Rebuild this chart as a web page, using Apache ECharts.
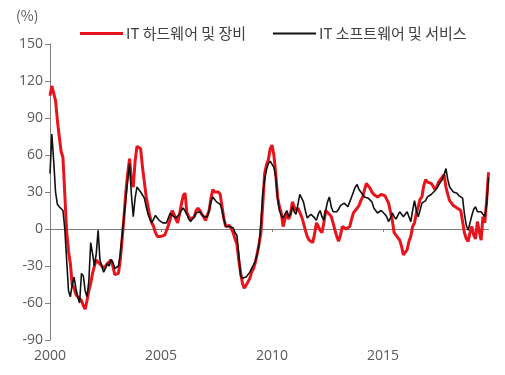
<!DOCTYPE html>
<html>
<head>
<meta charset="utf-8">
<script src="https://cdn.jsdelivr.net/npm/echarts@6/dist/echarts.min.js"></script>
<style>
html,body{margin:0;padding:0;background:#fff;}
#c{width:505px;height:375px;}
</style>
</head>
<body>
<div id="c"></div>
<script>
// monthly data, Jan 2000 - Oct 2019 (YoY %)
const startYear = 2000;
const seriesNames = ['IT 하드웨어 및 장비', 'IT 소프트웨어 및 서비스'];
const xTickYears = ['2000', '2005', '2010', '2015'];
const yTicks = [-90, -60, -30, 0, 30, 60, 90, 120, 150];

const hardware = [
108,116,115,104,88,75,63,58,28,-2,-18,-28,
-45,-48,-53,-55,-54,-58,-62,-65,-58,-50,-44,-36,
-30,-25,-27,-28,-30,-32,-31,-28,-27,-25,-30,-37,
-38,-36,-25,-8,10,30,45,57,40,34,55,67,
66,65,50,38,26,18,10,5,2,-3,-6,-7,
-6,-5,-5,-4,3,8,15,12,8,5,12,20,
27,29,13,10,8,7,10,15,17,15,12,10,
7,6,15,25,32,30,29,30,28,18,8,2,
2,3,2,-3,-8,-12,-25,-35,-44,-48,-47,-43,
-40,-35,-32,-27,-20,-12,-3,20,45,52,56,65,
68,60,45,26,18,13,2,8,13,8,12,22,
18,15,17,17,10,5,-1,-6,-9,-10,-11,-4,
5,2,-1,-3,5,15,14,12,10,5,-1,-6,
-10,-5,2,2,0,-1,2,8,13,15,17,19,
23,26,32,37,36,33,30,28,27,26,27,28,
29,27,24,21,14,7,-3,-5,-7,-9,-14,-21,
-20,-17,-10,-6,2,5,13,18,24,26,35,40,
38,37,37,35,32,34,38,40,42,44,34,28,
23,21,19,18,17,17,15,14,-3,-8,-10,-3,
2,-5,-8,6,-2,-9,10,5,23,46
];

const software = [
45,77,55,30,20,18,18,15,0,-25,-50,-55,
-45,-39,-48,-55,-60,-36,-38,-50,-55,-42,-11,-20,
-30,-20,-1,-25,-30,-35,-32,-28,-30,-25,-27,-32,
-33,-30,-20,-5,10,25,40,53,28,10,25,34,
33,30,29,25,18,12,8,5,8,11,9,7,
6,5,5,5,9,13,11,10,9,10,12,15,
17,16,12,8,6,8,10,13,13,14,12,10,
9,10,15,22,26,24,22,23,20,15,8,2,
1,2,3,1,-3,-5,-20,-38,-40,-40,-39,-37,
-35,-32,-29,-26,-20,-13,5,29,40,48,53,55,
56,50,42,25,15,11,9,12,15,10,12,18,
14,12,20,28,29,22,15,9,10,12,13,9,
7,12,15,10,7,15,22,26,18,14,15,14,
16,19,20,21,22,18,22,26,30,34,36,32,
30,28,26,25,25,26,22,17,15,13,14,15,
15,12,10,6,9,13,10,8,11,14,12,10,
10,14,10,6,15,23,15,10,15,21,21,23,
26,27,28,29,31,33,34,38,40,44,49,40,
34,32,30,30,29,27,26,25,12,3,-1,5,
11,16,18,14,15,14,12,10,20,42
];

const categories = [];
for (let i = 0; i < hardware.length; i++) {
  const y = startYear + Math.floor(i / 12);
  const m = (i % 12) + 1;
  categories.push(y + '-' + (m < 10 ? '0' + m : m));
}
const isLabelTick = (idx) => {
  const c = categories[idx];
  return c.endsWith('-01') && xTickYears.indexOf(c.slice(0, 4)) >= 0;
};

const chart = echarts.init(document.getElementById('c'), null, {renderer: 'canvas'});
const fontFam = '"Noto Sans CJK KR", "Open Sans", sans-serif';
const legendText = {fontFamily: fontFam, fontSize: 15, color: '#404040', padding: [0, 0, 0, -2]};
chart.setOption({
  animation: false,
  backgroundColor: '#fff',
  grid: {left: 50, top: 44, width: 438.5, height: 296},
  legend: [{
    data: [{name: seriesNames[0], icon: 'rect'}],
    top: 21,
    left: 75,
    itemWidth: 43,
    itemHeight: 3,
    textStyle: legendText
  }, {
    data: [{name: seriesNames[1], icon: 'rect'}],
    top: 21,
    left: 268,
    itemWidth: 43,
    itemHeight: 2,
    textStyle: legendText
  }],
  graphic: [{
    type: 'text', left: 16, top: 9,
    style: {text: '(%)', fontFamily: fontFam, fontSize: 14, fill: '#595959'}
  }],
  xAxis: [{
    type: 'category',
    data: categories,
    boundaryGap: false,
    axisLine: {show: false, onZero: false},
    axisTick: {show: false},
    splitLine: {show: false},
    axisLabel: {
      interval: (idx) => isLabelTick(idx),
      formatter: (v) => v.slice(0, 4),
      margin: 9,
      fontFamily: '"Open Sans", sans-serif',
      fontSize: 14,
      color: '#595959'
    }
  }, {
    type: 'category',
    data: categories,
    boundaryGap: false,
    position: 'bottom',
    axisLine: {show: true, onZero: true, lineStyle: {color: '#7f7f7f', width: 1}},
    axisTick: {show: true, inside: false, length: 3, interval: (idx) => isLabelTick(idx) && idx > 0, lineStyle: {color: '#7f7f7f'}},
    axisLabel: {show: false},
    splitLine: {show: false}
  }],
  yAxis: {
    type: 'value',
    min: yTicks[0],
    max: yTicks[yTicks.length - 1],
    interval: 30,
    axisLine: {show: true, lineStyle: {color: '#7f7f7f', width: 1}},
    axisTick: {show: true, length: 5, lineStyle: {color: '#7f7f7f'}},
    splitLine: {show: false},
    axisLabel: {
      margin: 7,
      fontFamily: '"Open Sans", sans-serif',
      fontSize: 14,
      color: '#595959'
    }
  },
  series: [{
    name: seriesNames[0],
    type: 'line',
    data: hardware,
    showSymbol: false,
    symbol: 'none',
    lineStyle: {color: '#e8131b', width: 3},
    itemStyle: {color: '#e8131b'},
    z: 2
  }, {
    name: seriesNames[1],
    type: 'line',
    data: software,
    showSymbol: false,
    symbol: 'none',
    lineStyle: {color: '#111', width: 1.6},
    itemStyle: {color: '#111'},
    z: 3
  }]
});
</script>
</body>
</html>
